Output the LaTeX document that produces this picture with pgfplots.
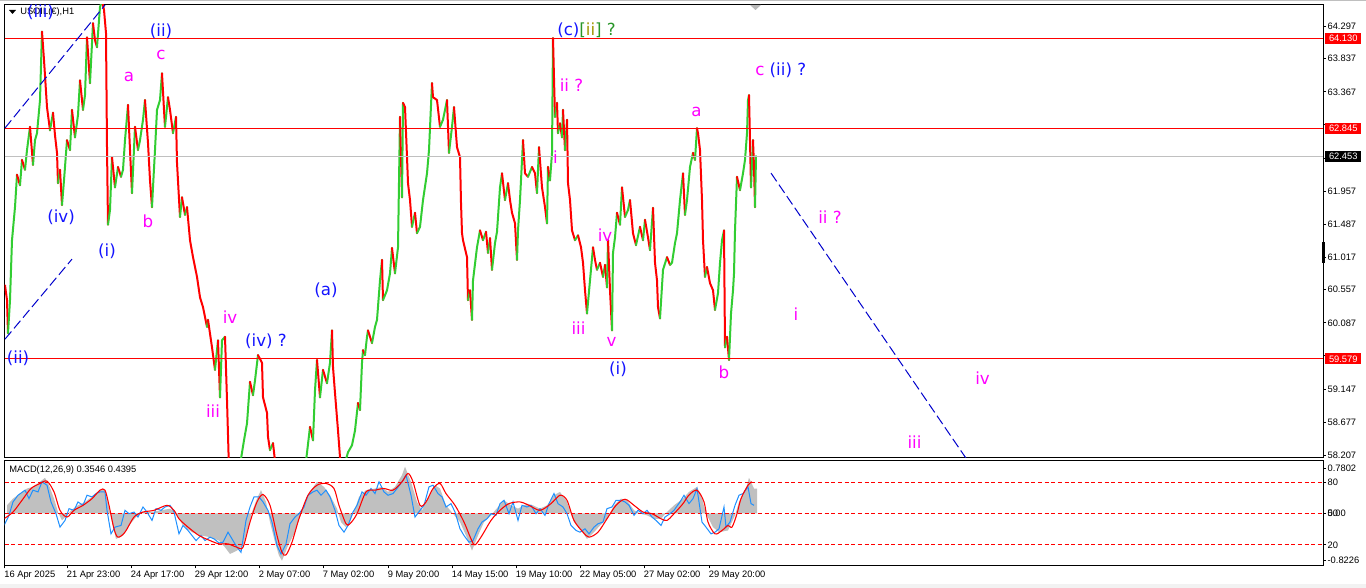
\documentclass[border=0pt]{standalone}
\usepackage{fontspec}
\setmainfont{Liberation Sans}
\newfontfamily\wave{DejaVu Sans}
\usepackage{pgfplots}
\pgfplotsset{compat=1.18}
\usepackage{pgfplotstable}

\definecolor{wblue}{RGB}{20,20,255}
\definecolor{wmag}{RGB}{255,0,255}
\definecolor{silver}{RGB}{192,192,192}
\definecolor{macdblue}{RGB}{30,144,255}
\definecolor{wgreen}{RGB}{40,150,40}
\definecolor{wolive}{RGB}{160,150,0}

\newcommand\tk{\fontsize{7}{8.4}\selectfont}
\newcommand\wv{\wave\fontsize{12.5}{14}\selectfont}

% H1 path, x = bar position, p = price, c = 1 when the next move is up
\pgfplotstableread{
x p c
5 60.62 0
7 60.41 0
8 59.94 1
10 60.41 1
12 61.26 1
15 61.73 1
17 62.19 0
20 62.04 1
22 62.40 0
25 62.26 1
27 62.54 1
30 62.87 0
33 62.33 1
35 62.68 1
37 62.78 1
40 63.25 1
42 64.22 0
44 63.82 0
47 63.15 0
50 62.82 1
53 63.07 0
55 62.75 0
57 62.50 0
58 62.07 1
60 62.26 0
62 61.76 1
64 62.11 1
67 62.68 0
70 62.54 1
72 63.11 0
75 62.72 1
78 63.04 1
80 63.53 0
83 63.11 1
85 63.32 1
87 64.14 0
90 63.49 1
93 64.34 0
95 64.10 0
97 64.00 1
100 64.57 1
102 64.66 0
104 64.53 0
106 64.20 0
107 62.58 0
108 61.48 1
110 61.69 1
112 62.44 0
115 62.01 1
118 62.30 0
121 62.16 1
123 62.26 1
125 62.68 1
128 63.18 0
130 62.54 0
132 61.93 1
135 62.87 0
138 62.54 1
140 62.68 1
143 62.97 1
145 63.25 0
148 62.64 0
150 62.11 0
152 61.73 1
153 62.01 1
155 62.54 1
157 63.11 1
160 63.25 1
162 63.63 0
164 63.11 0
165 62.87 1
168 63.29 0
170 63.11 0
173 62.78 1
176 63.01 0
177 62.36 0
180 61.59 1
182 61.87 0
185 61.62 1
187 61.73 0
190 61.26 0
193 61.02 0
197 60.74 0
200 60.45 0
203 60.31 0
207 60.03 1
208 60.13 0
212 59.74 0
215 59.42 1
218 59.84 0
220 59.03 1
222 59.84 1
225 59.89 0
227 58.99 0
229 58.00 0
235 57.85 1
240 58.07 1
244 58.42 1
247 58.66 1
250 59.25 0
253 59.06 1
255 59.27 1
258 59.63 0
262 59.52 0
263 59.03 0
267 58.81 0
268 58.47 0
270 58.28 1
273 58.38 0
276 58.00 0
285 57.71 1
295 57.85 1
305 58.00 1
310 58.61 0
313 58.42 1
315 59.13 1
317 59.56 0
320 59.03 1
323 59.42 0
327 59.23 1
330 59.52 1
332 59.98 0
333 59.46 0
335 59.09 0
338 58.56 0
340 58.18 0
343 58.00 1
348 58.25 1
352 58.35 1
355 58.56 1
358 58.95 0
360 58.85 1
362 59.52 1
363 59.70 0
365 59.63 1
367 59.89 1
368 59.98 0
372 59.80 1
375 60.03 1
377 60.13 1
380 60.69 1
382 60.98 0
383 60.41 1
385 60.48 1
387 60.55 1
390 60.79 1
392 61.15 0
395 60.79 1
398 61.16 1
400 63.01 0
402 61.87 1
403 63.21 0
405 63.15 0
407 62.44 0
408 62.07 0
410 61.83 0
412 61.45 1
415 61.65 0
417 61.36 1
420 61.45 1
423 61.83 1
427 62.21 1
429 62.54 1
432 63.49 0
433 63.29 0
437 63.25 0
440 62.87 1
443 62.97 1
447 63.25 0
449 62.50 1
452 62.87 1
454 63.15 0
457 62.58 0
460 62.44 0
461 61.79 0
462 61.36 0
463 61.26 0
467 61.02 0
468 60.41 1
470 60.55 0
472 60.13 1
473 60.69 1
477 61.16 1
480 61.40 0
483 61.26 1
486 61.38 0
488 61.08 1
490 61.29 0
492 60.84 1
495 61.22 1
497 61.38 1
500 62.01 1
502 62.21 0
505 61.83 1
508 62.07 0
510 61.83 0
512 61.65 0
515 61.50 0
517 60.98 1
518 61.40 1
520 61.83 1
523 62.68 0
525 62.21 0
528 62.16 1
532 62.30 0
535 62.21 0
537 61.93 1
539 62.58 0
542 62.01 0
545 61.73 0
547 61.50 1
548 62.30 0
550 62.11 1
552 62.50 1
553 64.13 0
554 63.56 0
555 63.01 1
557 63.21 0
558 62.78 1
560 62.92 0
562 62.72 1
563 63.11 0
565 62.54 1
567 62.97 0
568 62.07 0
570 61.83 0
572 61.40 0
575 61.26 1
578 61.33 0
581 61.16 0
583 60.94 0
585 60.55 0
587 60.22 1
590 60.69 1
593 61.16 0
595 60.98 0
597 60.84 1
600 60.94 0
603 60.74 1
605 60.91 0
607 60.59 1
608 61.26 0
610 60.55 0
612 59.98 1
613 61.08 1
615 61.30 1
617 61.65 0
620 61.48 1
622 62.01 0
625 61.59 1
628 61.69 1
630 61.83 0
633 61.36 0
636 61.19 1
640 61.45 0
643 61.26 1
645 61.55 0
648 61.30 0
650 61.12 1
653 61.72 0
655 60.94 0
657 60.69 0
658 60.31 0
660 60.15 1
663 60.84 1
667 61.02 0
670 60.91 1
672 60.94 1
675 61.22 1
677 61.36 1
680 61.83 1
683 62.21 0
685 61.62 1
687 61.83 1
690 62.30 1
693 62.50 0
695 62.40 1
697 62.85 0
698 62.78 0
700 62.54 0
702 61.83 0
703 61.26 0
705 60.74 1
707 60.88 0
710 60.65 0
713 60.55 0
715 60.27 1
718 60.51 1
720 60.94 1
722 61.26 1
724 61.40 0
725 59.74 1
727 59.89 0
729 59.56 1
731 60.22 1
733 60.55 1
734 60.79 1
735 61.40 1
737 62.16 0
740 61.97 1
743 62.21 1
745 62.40 1
747 62.78 1
748 63.25 1
749 63.32 0
751 62.01 1
753 62.68 0
754 62.30 0
755 61.73 1
756 62.453 1
}\price

% MACD main (histogram)
\pgfplotstableread{
x v
7 0.140
13 0.257
20 0.345
27 0.433
33 0.462
40 0.550
45 0.620
49 0.491
54 0.257
58 0.023
62 -0.123
67 -0.035
71 0.053
78 0.140
85 0.199
92 0.287
98 0.374
104 0.433
107 0.257
112 -0.152
116 -0.445
123 -0.386
129 -0.211
136 -0.064
143 0.023
152 0.023
161 0.053
170 0.082
176 -0.006
183 -0.211
192 -0.328
201 -0.386
210 -0.415
219 -0.474
225 -0.591
230 -0.708
237 -0.649
243 -0.562
248 -0.269
252 0.023
257 0.257
261 0.404
266 0.199
270 -0.152
275 -0.503
279 -0.737
282 -0.825
288 -0.562
295 -0.328
299 -0.094
304 0.140
310 0.374
317 0.550
324 0.462
330 0.316
337 0.082
341 -0.152
346 -0.240
350 -0.152
355 0.082
359 0.287
366 0.404
375 0.433
382 0.462
388 0.374
395 0.462
402 0.667
405 0.813
411 0.550
417 0.199
422 0.053
426 0.199
431 0.345
435 0.491
440 0.433
446 0.140
453 -0.006
460 -0.152
466 -0.386
472 -0.649
478 -0.386
484 -0.152
491 -0.035
498 0.111
504 0.228
511 0.140
518 0.082
527 0.170
533 0.140
540 0.082
547 0.140
554 0.316
560 0.374
567 0.199
574 -0.152
580 -0.269
587 -0.445
594 -0.328
600 -0.211
607 -0.094
614 0.140
621 0.257
627 0.228
634 0.053
641 -0.006
647 -0.035
654 -0.094
661 -0.094
667 0.023
674 0.140
683 0.257
689 0.374
697 0.462
702 0.257
706 0.000
713 -0.240
719 -0.328
728 -0.298
735 -0.035
739 0.199
746 0.433
749 0.620
754 0.433
757 0.433
}\hist

% signal line
\pgfplotstableread{
x v
4 -0.094
13 0.023
22 0.228
31 0.433
40 0.521
47 0.562
54 0.374
60 0.053
67 -0.064
74 0.053
83 0.140
92 0.257
100 0.404
105 0.404
109 0.140
114 -0.269
118 -0.415
125 -0.328
134 -0.064
143 0.023
154 0.053
167 0.140
174 0.053
179 -0.094
188 -0.240
199 -0.386
210 -0.474
219 -0.532
228 -0.532
237 -0.591
243 -0.591
250 -0.152
257 0.199
263 0.328
270 0.140
277 -0.386
282 -0.679
286 -0.725
292 -0.503
299 -0.094
308 0.316
317 0.491
326 0.521
334 0.433
339 0.140
346 -0.181
350 -0.181
357 -0.006
366 0.374
375 0.404
384 0.433
393 0.404
402 0.550
408 0.696
413 0.550
420 0.140
426 0.199
433 0.433
440 0.521
446 0.345
455 0.140
464 -0.152
471 -0.445
475 -0.550
482 -0.386
491 -0.123
500 0.053
509 0.170
520 0.199
529 0.140
540 0.053
551 0.170
560 0.316
567 0.228
574 -0.123
583 -0.328
589 -0.415
598 -0.328
607 -0.094
616 0.140
625 0.246
634 0.140
643 0.023
652 -0.006
661 -0.094
667 -0.123
674 -0.006
683 0.170
689 0.320
697 0.404
704 0.199
708 -0.152
715 -0.357
722 -0.298
728 -0.211
732 -0.240
737 -0.006
741 0.257
748 0.491
752 0.550
}\signal

% fast blue line
\pgfplotstableread{
x v
4 -0.211
9 -0.035
13 0.199
18 0.316
25 0.404
29 0.257
33 0.404
38 0.374
42 0.550
47 0.491
51 0.199
56 -0.006
60 -0.240
65 -0.123
69 0.082
74 0.053
78 0.199
83 0.140
87 0.316
92 0.287
96 0.345
100 0.374
105 0.374
107 0.053
111 -0.357
115 -0.240
121 -0.211
125 0.053
129 -0.006
134 0.023
138 -0.064
143 0.111
147 0.023
152 -0.123
156 0.082
161 0.053
165 0.111
170 0.140
174 0.023
179 -0.357
183 -0.211
188 -0.298
192 -0.386
196 -0.474
201 -0.386
205 -0.474
210 -0.415
214 -0.445
219 -0.515
223 -0.503
228 -0.328
232 -0.445
237 -0.591
241 -0.679
246 -0.123
250 0.111
254 0.287
259 0.287
263 0.199
268 0.053
272 -0.152
277 -0.562
281 -0.708
286 -0.532
290 -0.181
295 -0.064
299 -0.006
304 0.111
308 0.316
313 0.374
317 0.404
321 0.316
326 0.404
330 0.287
335 0.053
339 -0.211
344 -0.328
348 -0.211
353 0.023
357 0.140
362 0.374
366 0.316
371 0.433
375 0.345
379 0.550
384 0.374
388 0.316
393 0.345
397 0.433
402 0.550
406 0.667
411 0.316
415 -0.064
420 0.053
424 0.140
429 0.462
433 0.491
438 0.345
442 0.287
446 0.111
451 0.170
455 0.023
460 -0.269
464 -0.386
469 -0.503
473 -0.474
478 -0.269
482 -0.152
487 -0.094
491 -0.006
496 -0.035
500 0.170
504 0.228
509 -0.006
513 0.199
518 -0.123
522 0.140
527 0.111
531 0.140
536 -0.006
540 0.082
545 -0.035
549 0.170
554 0.345
558 0.170
563 0.111
567 -0.006
571 -0.211
576 -0.298
580 -0.328
585 -0.269
589 -0.357
594 -0.240
598 -0.181
603 -0.152
607 0.082
612 0.111
616 0.228
621 0.228
625 0.199
629 0.140
634 -0.035
638 0.053
643 -0.006
647 0.053
652 -0.064
656 -0.123
661 -0.211
665 -0.064
670 -0.006
674 0.053
680 0.199
684 0.316
689 0.170
693 0.257
697 0.433
702 -0.152
706 -0.240
711 -0.357
715 -0.328
719 -0.269
724 0.111
726 -0.240
730 -0.152
735 0.140
739 0.316
743 0.345
748 0.462
751 0.170
754 0.140
}\fastline

\begin{document}
\begin{tikzpicture}
\useasboundingbox (0,0) rectangle (1024.5pt,441pt);
\fill[white] (0,0) rectangle (1024.5pt,441pt);

% price window
\begin{axis}[
  at={(3.375pt,97.5pt)}, anchor=south west,
  width=988.875pt, height=339.75pt, scale only axis,
  xmin=4.5, xmax=1323, ymin=58.169, ymax=64.599,
  xtick=\empty,
  ytick={58.207,58.677,59.147,59.617,60.087,60.557,61.017,61.487,61.957,62.427,62.907,63.367,63.837,64.297},
  yticklabels={58.207,58.677,59.147,,60.087,60.557,61.017,61.487,61.957,,,63.367,63.837,64.297},
  ytick pos=right, yticklabel pos=right, tick align=outside,
  major tick length=2.25pt,
  tick style={black, line width=0.75pt},
  axis line style={black, line width=0.75pt},
  yticklabel style={font=\tk, inner sep=1pt},
  colormap={updown}{rgb255=(255,0,0) rgb255=(50,205,50)},
  point meta min=0, point meta max=1,
]
\addplot[mesh, shader=flat corner, point meta=\thisrow{c}, line width=1.5pt, line cap=round]
  table[x=x, y=p] {\price};
\addplot[silver, line width=0.75pt] coordinates {(4.5,62.453) (1323,62.453)};
\addplot[red, line width=0.75pt] coordinates {(4.5,64.130) (1323,64.130)};
\addplot[red, line width=0.75pt] coordinates {(4.5,62.845) (1323,62.845)};
\addplot[red, line width=0.75pt] coordinates {(4.5,59.579) (1323,59.579)};
\addplot[blue!80!black, line width=0.75pt, dash pattern=on 7.5pt off 3pt] coordinates {(5,62.852) (105,64.599)};
\addplot[blue!80!black, line width=0.75pt, dash pattern=on 7.5pt off 3pt] coordinates {(5,59.856) (72,60.992)};
\addplot[blue!80!black, line width=0.75pt, dash pattern=on 7.5pt off 3pt] coordinates {(771,62.213) (966,58.166)};
\end{axis}

% MACD window
\begin{axis}[
  at={(3.375pt,16.875pt)}, anchor=south west,
  width=988.875pt, height=78.375pt, scale only axis,
  xmin=4.5, xmax=1323, ymin=-0.909, ymax=0.913,
  xtick={4.5,67,131,195,259,323,388,452,516,580,644,709},
  xticklabels={16 Apr 2025,21 Apr 23:00,24 Apr 17:00,29 Apr 12:00,2 May 07:00,7 May 02:00,9 May 20:00,14 May 15:00,19 May 10:00,22 May 05:00,27 May 02:00,29 May 20:00},
  xtick pos=lower, xticklabel pos=lower,
  ytick={-0.8226,-0.550,0,0.538,0.7802},
  yticklabels={-0.8226,20,{\rlap{50}0.00},80,0.7802},
  ytick pos=right, yticklabel pos=right, tick align=outside,
  major tick length=2.25pt,
  tick style={black, line width=0.75pt},
  axis line style={black, line width=0.75pt},
  yticklabel style={font=\tk, inner sep=1pt},
  xticklabel style={font=\tk, anchor=north west, inner sep=0pt, xshift=-0.3pt, yshift=-1.5pt},
]
\addplot[fill=silver, draw=none] table[x=x, y=v] {\hist} \closedcycle;
\addplot[red, line width=0.75pt, dash pattern=on 3pt off 2pt] coordinates {(4.5,0.538) (1323,0.538)};
\addplot[red, line width=0.75pt, dash pattern=on 3pt off 2pt] coordinates {(4.5,0) (1323,0)};
\addplot[red, line width=0.75pt, dash pattern=on 3pt off 2pt] coordinates {(4.5,-0.550) (1323,-0.550)};
\addplot[macdblue, line width=0.75pt] table[x=x, y=v] {\fastline};
\addplot[red, line width=0.8pt, smooth] table[x=x, y=v] {\signal};
\end{axis}

% texts and markers, in screen pixels from the top left
\begin{scope}[x=0.75pt, y=-0.75pt, yshift=441pt]
\draw[gray!50, line width=0.75pt] (0,0.5) -- (1366,0.5);
\fill[gray!10] (0,584) rectangle (1366,588);
\fill[black] (9,10) -- (16,10) -- (12.5,14) -- cycle;
\node[anchor=west, font=\tk, inner sep=0] at (20,12.5) {USOIL(€),H1};
\fill[gray!55] (750,5) -- (761,5) -- (755.5,10) -- cycle;
\fill[black] (1321.5,242) rectangle (1324.5,263);
\node[anchor=west, font=\tk, inner sep=0] at (9,470) {MACD(12,26,9) 0.3546 0.4395};

\node[fill=red, text=white, font=\tk, anchor=west, inner sep=0, minimum width=27pt, minimum height=8.25pt] at (1325,38.3) {64.130};
\node[fill=red, text=white, font=\tk, anchor=west, inner sep=0, minimum width=27pt, minimum height=8.25pt] at (1325,128.6) {62.845};
\node[fill=black, text=white, font=\tk, anchor=west, inner sep=0, minimum width=27pt, minimum height=8.25pt] at (1325,156.3) {62.453};
\node[fill=red, text=white, font=\tk, anchor=west, inner sep=0, minimum width=27pt, minimum height=8.25pt] at (1325,358.8) {59.579};

\begin{scope}[every node/.style={font=\wv, inner sep=0}]
\node[wblue] at (40.5,12) {(iii)};
\node[wblue] at (161,31) {(ii)};
\node[wmag] at (161,55) {c};
\node[wmag] at (129,77) {a};
\node[wmag] at (148,221) {b};
\node[wblue] at (61,217) {(iv)};
\node[wblue] at (107,251) {(i)};
\node[wblue] at (18,358) {(ii)};
\node[wmag] at (230,317) {iv};
\node[wmag] at (213,411) {iii};
\node[wblue] at (266,341) {(iv) ?};
\node[wblue] at (326,290) {(a)};
\node[anchor=west] at (557,30) {\textcolor{wblue}{(c)}\textcolor{wgreen}{[}\textcolor{wolive}{ii}\textcolor{wgreen}{]\ ?}};
\node[wmag] at (571.5,85) {ii ?};
\node[wmag] at (555.5,157) {i};
\node[wmag] at (605,235) {iv};
\node[wmag] at (578.5,328) {iii};
\node[wmag] at (611.5,342) {v};
\node[wblue] at (618,369) {(i)};
\node[wmag] at (696.5,112) {a};
\node[wmag] at (724,372) {b};
\node[anchor=west] at (755,70.5) {\textcolor{wmag}{c} \textcolor{wblue}{(ii) ?}};
\node[wmag] at (830,217) {ii ?};
\node[wmag] at (796,314) {i};
\node[wmag] at (914.5,442) {iii};
\node[wmag] at (982.5,378) {iv};
\end{scope}
\end{scope}
\end{tikzpicture}
\end{document}
